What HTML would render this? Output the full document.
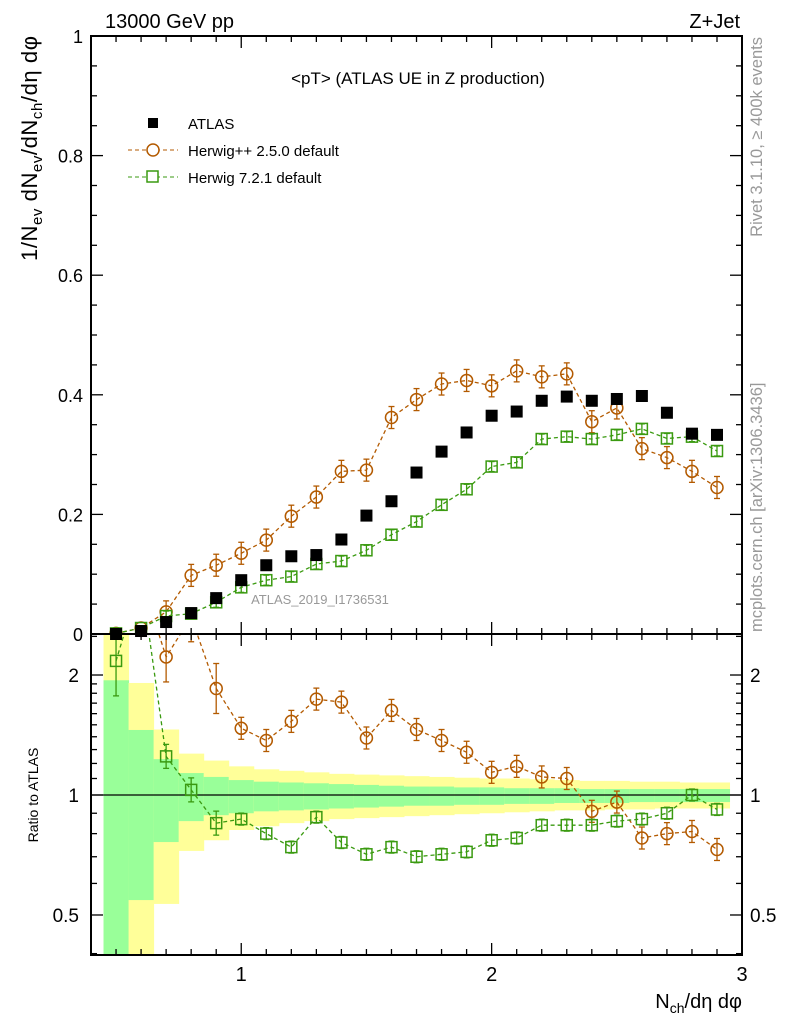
<!DOCTYPE html>
<html><head><meta charset="utf-8">
<style>
html,body{margin:0;padding:0;background:#fff;}
svg{display:block;font-family:"Liberation Sans",sans-serif;}
</style></head>
<body>
<svg id="chart" width="786" height="1024" viewBox="0 0 786 1024" xmlns="http://www.w3.org/2000/svg">
<text x="105" y="28" font-size="20">13000 GeV pp</text>
<text x="740" y="28" font-size="20" text-anchor="end">Z+Jet</text>
<text x="418" y="84" font-size="17" text-anchor="middle">&lt;pT&gt; (ATLAS UE in Z production)</text>
<text x="320" y="604" font-size="13" fill="#999" text-anchor="middle">ATLAS_2019_I1736531</text>
<text transform="translate(762,37) rotate(-90)" font-size="16.5" fill="#999" text-anchor="end">Rivet 3.1.10, ≥ 400k events</text>
<text transform="translate(762,632) rotate(-90)" font-size="16.5" fill="#999" text-anchor="start">mcplots.cern.ch [arXiv:1306.3436]</text>
<text transform="translate(37,36) rotate(-90)" font-size="22" text-anchor="end" textLength="225">1/N<tspan font-size="15" dy="5">ev</tspan><tspan dy="-5"> dN</tspan><tspan font-size="15" dy="5">ev</tspan><tspan dy="-5">/dN</tspan><tspan font-size="15" dy="5">ch</tspan><tspan dy="-5">/dη dφ</tspan></text>
<text transform="translate(38,795) rotate(-90)" font-size="14" text-anchor="middle">Ratio to ATLAS</text>
<text x="742" y="1008" font-size="20" text-anchor="end">N<tspan font-size="14" dy="5">ch</tspan><tspan dy="-5">/dη dφ</tspan></text>
<g>
<rect x="148" y="118" width="10" height="10" fill="#000"/>
<text x="188" y="129" font-size="15">ATLAS</text>
<line x1="128" y1="150" x2="178" y2="150" stroke="#b35a00" stroke-dasharray="4,3"/>
<circle cx="153" cy="150" r="6" fill="#fff" stroke="#b35a00" stroke-width="1.5"/>
<text x="188" y="156" font-size="15">Herwig++ 2.5.0 default</text>
<line x1="128" y1="177" x2="178" y2="177" stroke="#3a9a10" stroke-dasharray="4,3"/>
<rect x="147" y="171" width="11" height="11" fill="#fff" stroke="#3a9a10" stroke-width="1.5"/>
<text x="188" y="183" font-size="15">Herwig 7.2.1 default</text>
</g>
<g id="plot"></g>
</svg>
<script>
const xs=[0.5,0.6,0.7,0.8,0.9,1.0,1.1,1.2,1.3,1.4,1.5,1.6,1.7,1.8,1.9,2.0,2.1,2.2,2.3,2.4,2.5,2.6,2.7,2.8,2.9];
const atlas=[0.0,0.005,0.02,0.035,0.06,0.09,0.115,0.13,0.132,0.158,0.198,0.222,0.27,0.305,0.337,0.365,0.372,0.39,0.397,0.39,0.393,0.398,0.37,0.335,0.333];
const herwigpp=[0.001,0.01,0.037,0.098,0.115,0.135,0.157,0.197,0.229,0.272,0.274,0.362,0.392,0.418,0.424,0.415,0.44,0.43,0.435,0.355,0.378,0.31,0.295,0.272,0.245];
const herwig7=[0.001,0.01,0.03,0.034,0.053,0.078,0.09,0.096,0.117,0.122,0.14,0.166,0.188,0.216,0.242,0.28,0.287,0.326,0.33,0.326,0.333,0.343,0.327,0.33,0.306];
const ratioPP=[3.5,3.5,2.22,2.8,1.85,1.47,1.37,1.53,1.74,1.71,1.39,1.63,1.46,1.37,1.28,1.14,1.18,1.11,1.10,0.91,0.96,0.78,0.80,0.81,0.73];
const ratio7=[2.17,3.5,1.25,1.03,0.85,0.87,0.80,0.74,0.88,0.76,0.71,0.74,0.70,0.71,0.72,0.77,0.78,0.84,0.84,0.84,0.86,0.87,0.90,1.0,0.92];
const yelUp=[3,1.91,1.46,1.27,1.22,1.18,1.16,1.15,1.14,1.13,1.125,1.12,1.115,1.11,1.105,1.10,1.10,1.095,1.09,1.085,1.085,1.08,1.08,1.075,1.075];
const yelLo=[0.3,0.3,0.533,0.724,0.77,0.817,0.835,0.85,0.86,0.87,0.875,0.88,0.885,0.89,0.895,0.90,0.905,0.91,0.915,0.915,0.92,0.92,0.925,0.925,0.925];
const grnUp=[1.94,1.456,1.23,1.135,1.11,1.09,1.08,1.075,1.07,1.065,1.06,1.055,1.05,1.05,1.045,1.045,1.04,1.04,1.04,1.035,1.035,1.035,1.035,1.035,1.035];
const grnLo=[0.3,0.545,0.762,0.86,0.89,0.90,0.91,0.915,0.92,0.925,0.93,0.935,0.94,0.94,0.945,0.945,0.95,0.95,0.955,0.955,0.955,0.96,0.96,0.96,0.96];
const mainTicks=[0,0.2,0.4,0.6,0.8,1];
const mainTickLabels=["0","0.2","0.4","0.6","0.8","1"];
const ratioTicks=[0.5,1,2];
const ratioTickLabels=["0.5","1","2"];
const xTicks=[1,2,3];
const xTickLabels=["1","2","3"];

const L=91,R=742,T=36,M=634,B=955;
const X=v=>L+(v-0.4)*250.4;
const Y=v=>M-v*598;
const RY=r=>795-Math.log10(r)*398.6;
const NS="http://www.w3.org/2000/svg";
const g=document.getElementById('plot');
function mk(tag,attrs,parent){const e=document.createElementNS(NS,tag);for(const k in attrs)e.setAttribute(k,attrs[k]);(parent||g).appendChild(e);return e;}

const defs=mk('defs',{});
const cp=mk('clipPath',{id:'rc'},defs);mk('rect',{x:L,y:M,width:R-L,height:B-M},cp);
const cp2=mk('clipPath',{id:'mc'},defs);mk('rect',{x:L,y:T,width:R-L,height:M-T},cp2);

const bands=mk('g',{'clip-path':'url(#rc)'});


xs.forEach((x,i)=>{
  const y1=RY(yelUp[i]),y2=RY(yelLo[i]);
  const r=mk('rect',{x:X(x-0.05),y:y1,width:X(x+0.05)-X(x-0.05)+0.5,height:y2-y1,fill:'#ffff99'},bands);
  
  
  const g1=RY(grnUp[i]),g2=RY(grnLo[i]);
  const r2=mk('rect',{x:X(x-0.05),y:g1,width:X(x+0.05)-X(x-0.05)+0.5,height:g2-g1,fill:'#99ff99'},bands);
  
  
});
const one=mk('line',{x1:L,x2:R,y1:RY(1),y2:RY(1),stroke:'#000','stroke-width':1.2});



function series(vals,yf,color,shape,name,clip,err){
  const sg=mk('g',{'clip-path':'url(#'+clip+')'});
  
  
  mk('polyline',{points:xs.map((x,i)=>X(x)+','+yf(vals[i])).join(' '),fill:'none',stroke:color,'stroke-width':1.3,'stroke-dasharray':'4,3'},sg);
  xs.forEach((x,i)=>{
    const cx=X(x),cy=yf(vals[i]);
    const e=err(i);
    mk('line',{x1:cx,x2:cx,y1:cy-e,y2:cy+e,stroke:color,'stroke-width':1.3},sg);
    mk('line',{x1:cx-3,x2:cx+3,y1:cy-e,y2:cy-e,stroke:color,'stroke-width':1.3},sg);
    mk('line',{x1:cx-3,x2:cx+3,y1:cy+e,y2:cy+e,stroke:color,'stroke-width':1.3},sg);
    let m;
    if(shape==='c') m=mk('circle',{cx:cx,cy:cy,r:6,fill:'none',stroke:color,'stroke-width':1.5},sg);
    else m=mk('rect',{x:cx-5.5,y:cy-5.5,width:11,height:11,fill:'none',stroke:color,'stroke-width':1.5},sg);
    
    
  });
}
series(herwigpp,Y,'#b35a00','c','herwigpp-series','mc',i=>i<2?2:11);
series(herwig7,Y,'#3a9a10','s','herwig7-series','mc',i=>i<2?2:5);
series(ratioPP,RY,'#b35a00','c','herwigpp-ratio','rc',i=>i<5?25:11);
series(ratio7,RY,'#3a9a10','s','herwig7-ratio','rc',i=>i<1?35:(i<5?12:6));
const ag=mk('g',{});


xs.forEach((x,i)=>{
  const r=mk('rect',{x:X(x)-6,y:Y(atlas[i])-6,width:12,height:12,fill:'#000'},ag);
  
  
});

const f1=mk('rect',{x:L,y:T,width:R-L,height:M-T,fill:'none',stroke:'#000','stroke-width':2});


const f2=mk('rect',{x:L,y:M,width:R-L,height:B-M,fill:'none',stroke:'#000','stroke-width':2});



const tk=mk('g',{stroke:'#000','stroke-width':1.3});


for(let k=5;k<=29;k++){const v=k/10,x=X(v),maj=(k%10===0),l=maj?12:6;
  [T,M,B].forEach(y=>{ if(y!==T) mk('line',{x1:x,x2:x,y1:y,y2:y-l},tk); if(y!==B) mk('line',{x1:x,x2:x,y1:y,y2:y+l},tk);});}
xTicks.forEach((v,i)=>{const t=mk('text',{x:X(v),y:B+26,'font-size':20,'text-anchor':'middle'});t.textContent=xTickLabels[i];
  
  });
for(let k=0;k<=20;k++){const v=k*0.05,y=Y(v),l=(k%4===0)?12:6;
  mk('line',{x1:L,x2:L+l,y1:y,y2:y},tk);mk('line',{x1:R,x2:R-l,y1:y,y2:y},tk);}
mainTicks.forEach((v,i)=>{const t=mk('text',{x:L-8,y:Y(v)+7,'font-size':18,'text-anchor':'end'});t.textContent=mainTickLabels[i];
  
  });
[0.4,0.5,0.6,0.7,0.8,0.9,1,1.1,1.2,1.3,1.4,1.5,1.6,1.7,1.8,1.9,2,2.5].forEach(v=>{const y=RY(v);if(y<M||y>B)return;
  const l=ratioTicks.includes(v)?12:6;mk('line',{x1:L,x2:L+l,y1:y,y2:y},tk);mk('line',{x1:R,x2:R-l,y1:y,y2:y},tk);});
ratioTicks.forEach((v,i)=>{
  const t=mk('text',{x:L-12,y:RY(v)+7,'font-size':19,'text-anchor':'end'});t.textContent=ratioTickLabels[i];
  
  
  const t2=mk('text',{x:R+8,y:RY(v)+7,'font-size':19,'text-anchor':'start'});t2.textContent=ratioTickLabels[i];
  
  
});
</script>
</body></html>
